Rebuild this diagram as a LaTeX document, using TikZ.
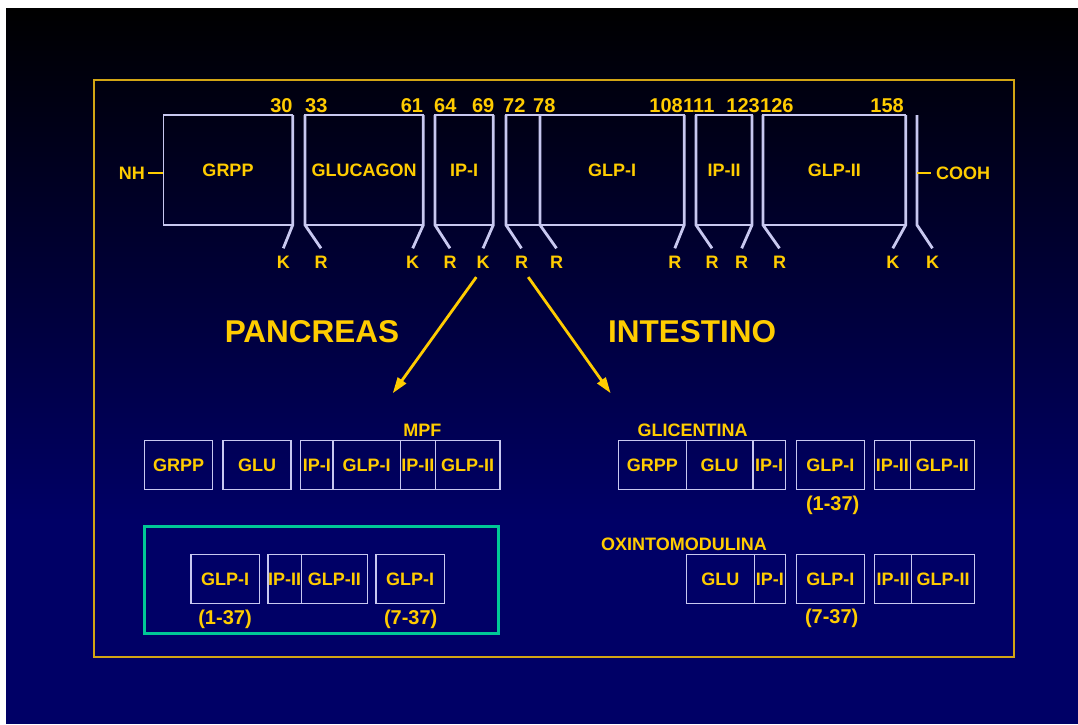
\documentclass[tikz,border=0pt]{standalone}
\usepackage{fontspec}
\setmainfont{Liberation Sans}
\usetikzlibrary{arrows.meta, positioning}
\definecolor{labelyellow}{RGB}{255, 204, 0}
\definecolor{boxlav}{RGB}{200, 200, 240}
\definecolor{framegold}{RGB}{210, 165, 20}
\definecolor{cleaveteal}{RGB}{0, 200, 150}
\definecolor{bgnavy}{RGB}{0, 0, 102}

\begin{document}
\begin{tikzpicture}[x=1pt, y=-1pt,
  lbl/.style={text=labelyellow, inner sep=0pt, font=\fontsize{18}{20}\selectfont\bfseries},
  num/.style={lbl, font=\fontsize{20}{22}\selectfont\bfseries},
  head/.style={lbl, font=\fontsize{31.5}{34}\selectfont\bfseries},
  seg/.style={lbl, draw=boxlav, line width=1.3pt, outer sep=0pt, anchor=north west, minimum height=49pt},
  precursor/.style={seg, minimum height=110pt},
  site/.style={draw=boxlav, line width=2.8pt},
  sitelab/.style={lbl, inner ysep=8pt},
  flow/.style={draw=labelyellow, line width=2.8pt, -{Triangle[length=16pt, width=10pt]}},
  tail/.style={draw=labelyellow, line width=1.5pt}
]
  \useasboundingbox (0,0) rectangle (1078,724);
  % Background
  \fill[white] (0,0) rectangle (1078,724);
  \shade[top color=black, bottom color=bgnavy] (6,8) rectangle (1078,521);
  \fill[bgnavy] (6,520) rectangle (1078,724);
  \draw[framegold, line width=1.5pt] (94,80) rectangle (1014,657);

  % Proglucagon
  \foreach \n/\l/\r/\t in {grpp/163.3/292.7/GRPP, glucagon/305/423.3/GLUCAGON, ipi/435/493.3/IP-I, spacer/506/540/{}, glpi/540/684.2/GLP-I, ipii/696/752/IP-II, glpii/763/905.7/GLP-II} {
    \node[precursor, minimum width={(\r-\l)*1pt}] (\n) at (\l,115) {\t};
  }
  \foreach \x/\a/\t in {292.7/east/30, 305/west/33, 423.3/east/61, 434/west/64, 494.5/east/69, 503/west/72, 533/west/78, 683/east/108, 683/west/111, 760/east/123, 760/west/126, 904/east/158} {
    \node[num, anchor=base \a] (n\t) at (\x,112.3) {\t};
  }

  % Cleavage sites
  \foreach \i/\b/\s/\t/\x in {1/grpp/east/K/283.3, 2/glucagon/west/R/321, 3/glucagon/east/K/412.7, 4/ipi/west/R/450, 5/ipi/east/K/483, 6/spacer/west/R/521.5, 7/glpi/west/R/556.5, 8/glpi/east/R/674.8, 9/ipii/west/R/712, 10/ipii/east/R/741.7, 11/glpii/west/R/779.5, 12/glpii/east/K/892.8} {
    \node[sitelab] (s\i) at (\x,262.7) {\t};
    \draw[site] (\b.north \s) -- (\b.south \s) -- (s\i.north);
  }
  \coordinate (ctop) at (917,115);
  \coordinate (cbot) at (917,225);
  \node[sitelab] (s13) at (932.5,262.7) {K};
  \draw[site] (ctop) -- (cbot) -- (s13.north);

  % Termini
  \node[lbl, anchor=east] (nh) at (145,173) {NH};
  \draw[tail] ([xshift=3pt]nh.east) -- (grpp.west |- nh.east);
  \node[lbl, anchor=west] (cooh) at (936,173) {COOH};
  \draw[tail] (ctop |- cooh.west) -- ([xshift=-5pt]cooh.west);

  % Tissues
  \node[head] (pancreas) at (312,331.7) {PANCREAS};
  \node[head] (intestino) at (692,331.7) {INTESTINO};
  \coordinate (panend) at (392.7,393.3);
  \coordinate (intend) at (610.7,393.3);
  \draw[flow] (s5.south west) -- (panend);
  \draw[flow] (s6.south east) -- (intend);

  % Pancreas products
  \node[lbl] (mpf) at (422.3,430) {MPF};
  \foreach \n/\l/\r/\t in {pa1/144.7/212.7/GRPP, pa2/223/291/GLU, mpf1/300.7/333/IP-I, mpf2/333/400.3/GLP-I, mpf3/400.3/435.3/IP-II, mpf4/435.3/500/GLP-II} {
    \node[seg, minimum width={(\r-\l)*1pt}] (\n) at (\l,440.7) {\t};
  }
  \draw[cleaveteal, line width=3pt] (144.7,526.7) rectangle (498,633.3);
  \foreach \n/\l/\r/\t in {pb1/191/259.3/GLP-I, pb2/268/301.3/IP-II, pb3/301.3/367.3/GLP-II, pb4/376/444.3/GLP-I} {
    \node[seg, minimum width={(\r-\l)*1pt}] (\n) at (\l,554.3) {\t};
  }
  \node[num] (pbfull) at (225,619) {(1-37)};
  \node[num] (pbshort) at (410.7,619) {(7-37)};

  % Intestine products
  \node[lbl] (glicentina) at (692.7,430) {GLICENTINA};
  \foreach \n/\l/\r/\t in {gli1/618.3/686.3/GRPP, gli2/686.3/753/GLU, gli3/753/785.3/IP-I, gli4/796.3/864.3/GLP-I, gli5/874.3/910.3/IP-II, gli6/910.3/974.3/GLP-II} {
    \node[seg, minimum width={(\r-\l)*1pt}] (\n) at (\l,440.7) {\t};
  }
  \node[num] (glifull) at (832.7,505.7) {(1-37)};
  \node[lbl] (oxm) at (684,544) {OXINTOMODULINA};
  \foreach \n/\l/\r/\t in {oxm1/686.3/754.3/GLU, oxm2/754.3/785.3/IP-I, oxm3/796.3/864.3/GLP-I, oxm4/874.3/911.7/IP-II, oxm5/911.7/974.3/GLP-II} {
    \node[seg, minimum width={(\r-\l)*1pt}] (\n) at (\l,554.3) {\t};
  }
  \node[num] (oxmshort) at (831.7,618.3) {(7-37)};
\end{tikzpicture}
\end{document}
